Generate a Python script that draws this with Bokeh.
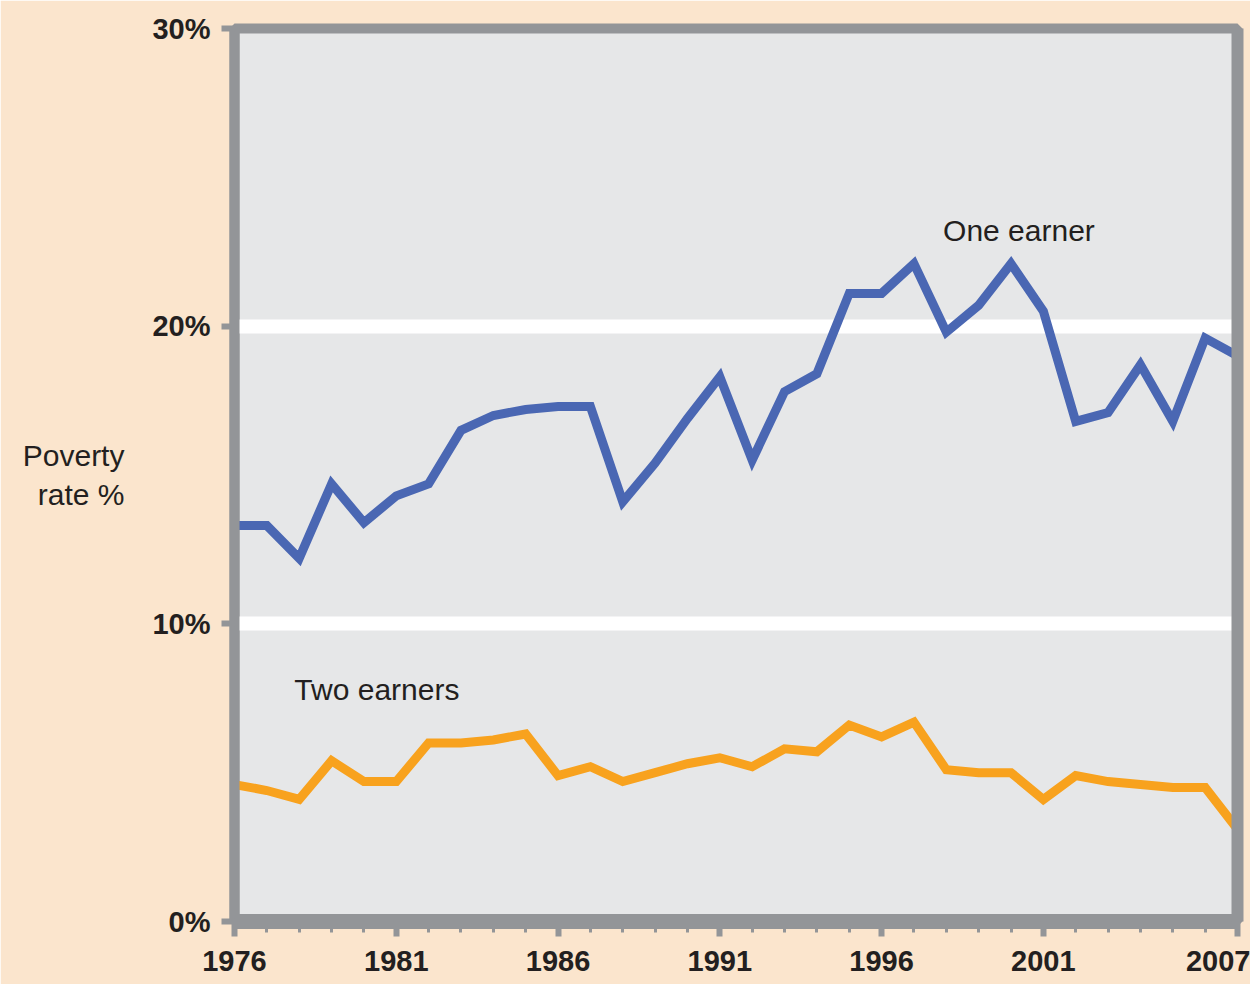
from bokeh.plotting import figure
from bokeh.models import FixedTicker, Label, Range1d, LinearAxis
from bokeh.embed import file_html
from bokeh.resources import INLINE

# ---- data ----
years = list(range(1976, 2008))
one_earner = [13.3, 13.3, 12.2, 14.7, 13.4, 14.3, 14.7, 16.5, 17.0, 17.2,
              17.3, 17.3, 14.1, 15.4, 16.9, 18.3, 15.5, 17.8, 18.4, 21.1,
              21.1, 22.1, 19.8, 20.7, 22.1, 20.5, 16.8, 17.1, 18.7, 16.8,
              19.6, 19.0]
two_earners = [4.6, 4.4, 4.1, 5.4, 4.7, 4.7, 6.0, 6.0, 6.1, 6.3,
               4.9, 5.2, 4.7, 5.0, 5.3, 5.5, 5.2, 5.8, 5.7, 6.6,
               6.2, 6.7, 5.1, 5.0, 5.0, 4.1, 4.9, 4.7, 4.6, 4.5,
               4.5, 3.1]
x_ticks = [1976, 1981, 1986, 1991, 1996, 2001, 2007]
x_tick_labels = ["1976", "1981", "1986", "1991", "1996", "2001", "2007"]
y_ticks = [0, 10, 20, 30]
y_tick_labels = ["0%", "10%", "20%", "30%"]

FONT = "Liberation Sans"
GRAY = "#939598"
TXT = "#231F20"

p = figure(width=1250, height=984,
           x_range=Range1d(1976, 2007), y_range=Range1d(0, 30),
           output_backend="svg", toolbar_location=None,
           min_border_left=234, min_border_right=13,
           min_border_top=28, min_border_bottom=63,
           background_fill_color="#E6E7E8",
           border_fill_color="#FBE5CD",
           outline_line_color=GRAY, outline_line_width=10)

# grid
p.xgrid.visible = False
p.ygrid.ticker = FixedTicker(ticks=[10, 20])
p.ygrid.grid_line_color = "white"
p.ygrid.grid_line_width = 14

# y axis
ya = p.yaxis[0]
ya.ticker = FixedTicker(ticks=y_ticks)
ya.major_label_overrides = dict(zip(y_ticks, y_tick_labels))
ya.axis_line_color = GRAY
ya.axis_line_width = 10
ya.major_tick_line_color = GRAY
ya.major_tick_line_width = 6
ya.major_tick_in = 0
ya.major_tick_out = 13
ya.minor_tick_line_color = None
ya.major_label_standoff = 11
ya.major_label_text_font = FONT
ya.major_label_text_font_size = "29px"
ya.major_label_text_font_style = "bold"
ya.major_label_text_color = TXT
ya.axis_label = "Poverty\nrate %"
ya.axis_label_orientation = "horizontal"
ya.axis_label_standoff = 25
ya.axis_label_text_font = FONT
ya.axis_label_text_font_size = "30px"
ya.axis_label_text_font_style = "normal"
ya.axis_label_text_color = TXT

# right frame edge drawn as a bare axis so it sits above grid and lines
ra = LinearAxis(ticker=FixedTicker(ticks=[]), axis_line_color=GRAY,
                axis_line_width=12, major_tick_line_color=None,
                minor_tick_line_color=None, major_label_text_font_size="0px")
p.add_layout(ra, "right")

# x axis
xa = p.xaxis[0]
xa.ticker = FixedTicker(ticks=x_ticks, minor_ticks=years)
xa.major_label_overrides = dict(zip(x_ticks, x_tick_labels))
xa.axis_line_color = GRAY
xa.axis_line_width = 15
xa.major_tick_line_color = GRAY
xa.major_tick_line_width = 6
xa.major_tick_in = 0
xa.major_tick_out = 15
xa.minor_tick_line_color = GRAY
xa.minor_tick_line_width = 3
xa.minor_tick_in = 0
xa.minor_tick_out = 11
xa.major_label_standoff = 14
xa.major_label_text_font = FONT
xa.major_label_text_font_size = "29px"
xa.major_label_text_font_style = "bold"
xa.major_label_text_color = TXT

# lines
p.line(years, one_earner, line_width=9, line_color="#4A67B3", line_join="miter")
p.line(years, two_earners, line_width=9, line_color="#F8A21E", line_join="miter")

# series labels
p.add_layout(Label(x=1997.9, y=23.2, text="One earner", text_baseline="middle",
                   text_font=FONT, text_font_size="30px", text_color=TXT))
p.add_layout(Label(x=1977.85, y=7.8, text="Two earners", text_baseline="middle",
                   text_font=FONT, text_font_size="30px", text_color=TXT))

open("out.html", "w").write(file_html(p, INLINE))
